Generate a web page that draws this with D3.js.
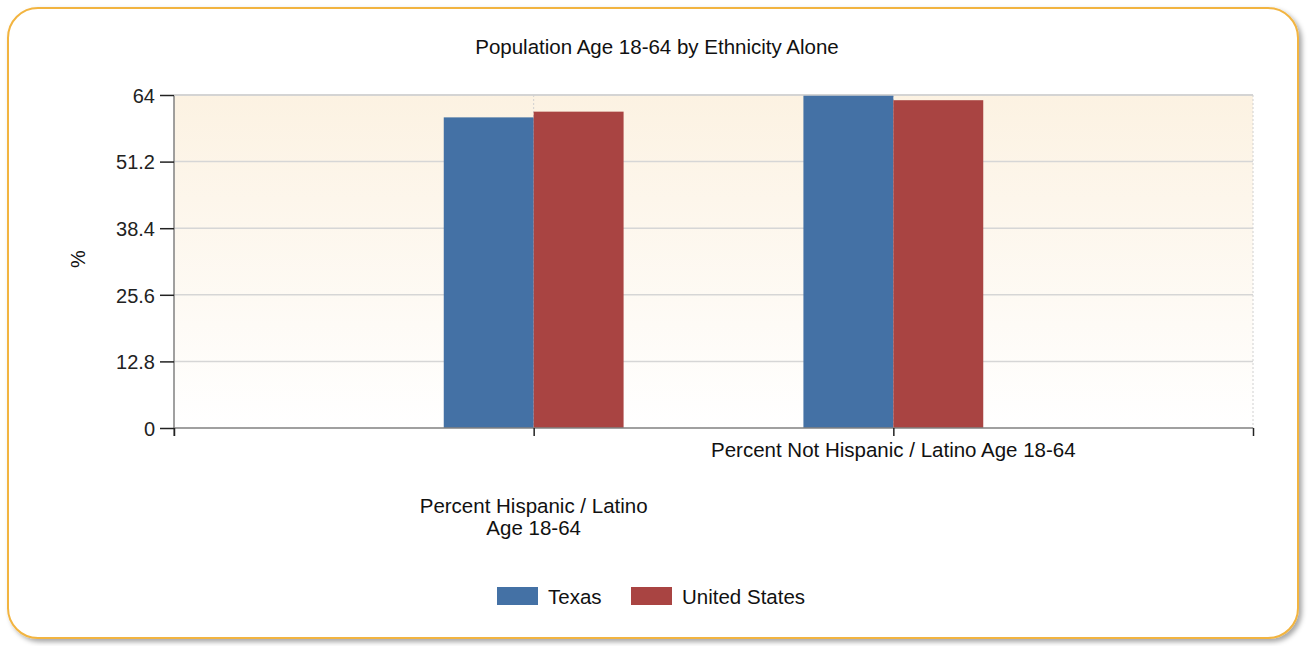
<!DOCTYPE html>
<html><head><meta charset="utf-8">
<script src="https://cdn.jsdelivr.net/npm/d3@7"></script>
<style>body{margin:0;background:#fff;}svg{display:block;font-family:"Liberation Sans",Arial,sans-serif;}</style>
</head><body>
<svg id="c" width="1311" height="646"></svg>
<script>
const categories = ["Percent Hispanic / Latino Age 18-64", "Percent Not Hispanic / Latino Age 18-64"];
const categoryLines = [["Percent Hispanic / Latino", "Age 18-64"], ["Percent Not Hispanic / Latino Age 18-64"]];
const seriesNames = ["Texas", "United States"];
const texas = [59.7, 64.0];
const unitedStates = [60.8, 63.0];
const yTicks = [0, 12.8, 25.6, 38.4, 51.2, 64];
const colors = ["#4471a5", "#a94442"];

const FONT = "'Liberation Sans',Arial,sans-serif";
const svg = d3.select("#c");
const defs = svg.append("defs");
const sh = defs.append("filter").attr("id","sh").attr("x","-5%").attr("y","-5%").attr("width","110%").attr("height","115%");
sh.append("feDropShadow").attr("dx",3).attr("dy",3).attr("stdDeviation",2.5).attr("flood-color","#000").attr("flood-opacity",0.35);
const g = defs.append("linearGradient").attr("id","bg").attr("x1",0).attr("y1",0).attr("x2",0).attr("y2",1);
g.append("stop").attr("offset","0%").attr("stop-color","#fcf2e2");
g.append("stop").attr("offset","100%").attr("stop-color","#ffffff");

svg.append("rect").attr("x",8).attr("y",8).attr("width",1290).attr("height",630).attr("rx",30).attr("ry",30)
  .attr("fill","#fff").attr("stroke","#f2b440").attr("stroke-width",2).attr("filter","url(#sh)");

const L=174, R=1253, T=95, B=428;
const x = d3.scaleLinear().domain([0,3]).range([L,R]);
const y = d3.scaleLinear().domain([0,64]).range([B,T]);

svg.append("rect").attr("x",L).attr("y",T).attr("width",R-L).attr("height",B-T).attr("fill","url(#bg)");

// gridlines
svg.append("g").selectAll("line").data(yTicks.filter(d=>d>0)).join("line")
  .attr("x1",L).attr("x2",R).attr("y1",d=>y(d)).attr("y2",d=>y(d))
  .attr("stroke","#d6d6d6").attr("stroke-width",1.5);
svg.append("g").selectAll("line").data([1,2,3]).join("line")
  .attr("x1",d=>x(d)).attr("x2",d=>x(d)).attr("y1",T).attr("y2",B)
  .attr("stroke","#d0d0d0").attr("stroke-dasharray","2,2");

// bars
const bw = 0.25;
function i2x(i){return i+1;}
const data = [];
categories.forEach((c,i)=>{
  data.push({cat:i, s:0, v:texas[i]});
  data.push({cat:i, s:1, v:unitedStates[i]});
});
svg.append("g").selectAll("rect").data(data).join("rect")
  .attr("x",d=>x(i2x(d.cat) + (d.s===0 ? -bw : 0)))
  .attr("width",d=>x(bw)-x(0))
  .attr("y",d=>y(d.v)).attr("height",d=>y(0)-y(d.v))
  .attr("fill",d=>colors[d.s]);

// axes
const yAxis = d3.axisLeft(y).tickValues(yTicks).tickSize(14).tickPadding(5).tickFormat(d=>String(d));
const ya = svg.append("g").attr("transform",`translate(${L},0)`).call(yAxis);
ya.attr("font-size",20).attr("font-family",FONT);
ya.select(".domain").attr("stroke","#808080").attr("stroke-width",1.5).attr("d",`M0,${T}V${B+8}`);
ya.selectAll(".tick line").attr("stroke","#222").attr("stroke-width",1.5);
ya.selectAll("text").attr("fill","#222").attr("dy","0.36em");

const xa = svg.append("g").attr("transform",`translate(0,${B})`)
  .call(d3.axisBottom(x).tickValues([0,1,2,3]).tickSize(8).tickFormat(""));
xa.select(".domain").attr("stroke","#808080").attr("stroke-width",1.5).attr("d",`M${L},0H${R}`);
xa.selectAll(".tick line").attr("stroke","#222").attr("stroke-width",1.5);

// top border line
svg.append("line").attr("x1",L).attr("x2",R).attr("y1",T).attr("y2",T).attr("stroke","#d0d0d0").attr("stroke-width",1.5);

// category labels (staggered)
const labelY = [513, 457];
categoryLines.forEach((lines,i)=>{
  const t = svg.append("text").attr("x",x(i2x(i))).attr("y",labelY[i]).attr("text-anchor","middle")
    .attr("font-size",20.5).attr("fill","#111");
  lines.forEach((ln,j)=>t.append("tspan").attr("x",x(i2x(i))).attr("dy",j===0?0:22).text(ln));
});

// title
svg.append("text").attr("x",657).attr("y",54).attr("text-anchor","middle").attr("font-size",20.5).attr("fill","#111")
  .text("Population Age 18-64 by Ethnicity Alone");

// y label
svg.append("text").attr("transform","translate(85,259) rotate(-90)").attr("text-anchor","middle")
  .attr("font-size",20).attr("fill","#111").text("%");

// legend
const lg = svg.append("g");
const lx = [497, 631];
seriesNames.forEach((s,i)=>{
  lg.append("rect").attr("x",lx[i]).attr("y",587).attr("width",41).attr("height",18).attr("fill",colors[i]);
  lg.append("text").attr("x",lx[i]+51).attr("y",604).attr("font-size",20.5).attr("fill","#111").text(s);
});
</script>
</body></html>
